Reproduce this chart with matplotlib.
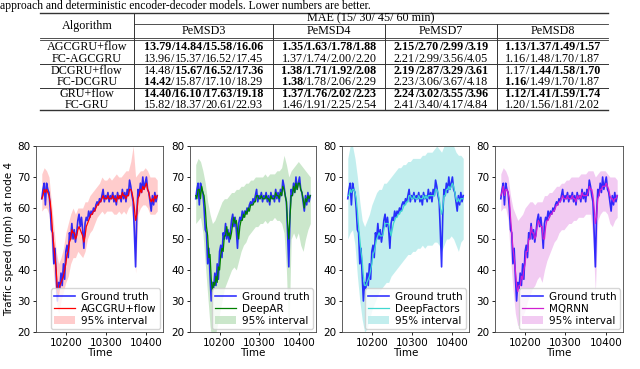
import numpy as np
import matplotlib
matplotlib.use("Agg")
import matplotlib.pyplot as plt
from matplotlib.lines import Line2D

# ---------------- data ----------------
caption = "approach and deterministic encoder-decoder models. Lower numbers are better."
algorithms = ["AGCGRU+flow", "FC-AGCGRU", "DCGRU+flow", "FC-DCGRU", "GRU+flow", "FC-GRU"]
datasets = ["PeMSD3", "PeMSD4", "PeMSD7", "PeMSD8"]
mae_pemsd3 = ["13.79/14.84/15.58/16.06", "13.96/15.37/16.52/17.45", "14.48/15.67/16.52/17.36",
              "14.42/15.87/17.10/18.29", "14.40/16.10/17.63/19.18", "15.82/18.37/20.61/22.93"]
mae_pemsd4 = ["1.35/1.63/1.78/1.88", "1.37/1.74/2.00/2.20", "1.38/1.71/1.92/2.08",
              "1.38/1.78/2.06/2.29", "1.37/1.76/2.02/2.23", "1.46/1.91/2.25/2.54"]
mae_pemsd7 = ["2.15/2.70/2.99/3.19", "2.21/2.99/3.56/4.05", "2.19/2.87/3.29/3.61",
              "2.23/3.06/3.67/4.18", "2.24/3.02/3.55/3.96", "2.41/3.40/4.17/4.84"]
mae_pemsd8 = ["1.13/1.37/1.49/1.57", "1.16/1.48/1.70/1.87", "1.17/1.44/1.58/1.70",
              "1.16/1.49/1.70/1.87", "1.12/1.41/1.59/1.74", "1.20/1.56/1.81/2.02"]
mae_columns = [mae_pemsd3, mae_pemsd4, mae_pemsd7, mae_pemsd8]

t_line = np.arange(10140, 10431, 3)
ground_truth = [63, 66, 68, 61, 68, 66, 65, 60, 53, 52,
                42, 47, 38, 30, 36, 34, 39, 35, 42, 37,
                46, 48, 44, 52, 50, 55, 50, 53, 49, 52,
                56, 58, 54, 57, 53, 47, 55, 57, 56, 59,
                57, 59, 58, 60, 59, 61, 62, 61, 63, 62,
                64, 66, 62, 64, 63, 65, 62, 64, 63, 65,
                62, 64, 61, 65, 63, 64, 62, 66, 63, 65,
                62, 66, 64, 69, 67, 64, 62, 52, 41, 58,
                66, 64, 68, 65, 70, 66, 68, 70, 66, 65,
                62, 59, 64, 61, 65, 62, 64]
pred_agcgru = [63, 64, 66, 65, 66, 65, 64, 62, 58, 52,
               48, 44, 40, 33, 32, 35, 36, 37, 38, 40,
               42, 45, 46, 49, 50, 53, 52, 52, 50, 51,
               53, 54, 53, 52, 51, 49, 51, 54, 55, 56,
               57, 58, 58, 59, 59, 60, 61, 61, 62, 62,
               63, 64, 63, 63, 63, 64, 63, 63, 63, 64,
               63, 63, 62, 64, 63, 64, 63, 65, 64, 64,
               63, 64, 64, 66, 66, 65, 63, 60, 56, 58,
               63, 64, 66, 65, 67, 66, 67, 68, 66, 65,
               63, 62, 63, 62, 64, 63, 64]
pred_deepar = [64, 63, 66, 66, 63, 67, 65, 64, 60, 54,
               51, 44, 45, 37, 33, 36, 35, 38, 36, 41,
               40, 45, 47, 46, 51, 51, 54, 51, 52, 50,
               52, 55, 57, 55, 56, 53, 50, 54, 56, 56,
               58, 57, 59, 58, 60, 59, 61, 61, 61, 62,
               62, 64, 64, 63, 63, 64, 63, 63, 63, 64,
               63, 63, 62, 64, 63, 63, 63, 65, 64, 64,
               63, 65, 64, 67, 66, 64, 62, 55, 50, 57,
               64, 64, 67, 65, 68, 66, 68, 68, 66, 65,
               63, 60, 63, 62, 64, 63, 64]
pred_deepfactors = [64, 64, 66, 65, 66, 66, 65, 63, 59, 54,
                    50, 46, 43, 38, 35, 35, 36, 37, 38, 40,
                    42, 45, 46, 48, 50, 51, 52, 51, 51, 51,
                    53, 55, 55, 55, 55, 53, 51, 53, 55, 56,
                    57, 57, 58, 58, 59, 59, 60, 61, 61, 62,
                    62, 64, 64, 63, 63, 64, 63, 63, 63, 64,
                    63, 63, 63, 64, 63, 64, 63, 64, 64, 64,
                    64, 64, 64, 66, 66, 65, 63, 60, 58, 60,
                    64, 64, 66, 66, 67, 66, 67, 68, 67, 65,
                    63, 62, 63, 62, 63, 63, 63]
pred_mqrnn = [64, 65, 67, 64, 66, 66, 65, 63, 57, 52,
              47, 44, 40, 35, 33, 35, 35, 38, 37, 40,
              42, 46, 46, 50, 50, 54, 52, 52, 50, 51,
              54, 56, 55, 54, 54, 50, 50, 54, 56, 56,
              57, 58, 58, 59, 59, 60, 61, 61, 62, 62,
              63, 64, 63, 63, 63, 64, 63, 63, 63, 64,
              63, 63, 62, 64, 63, 64, 63, 65, 64, 64,
              64, 64, 65, 67, 66, 66, 64, 60, 55, 57,
              63, 64, 66, 66, 67, 67, 67, 68, 67, 66,
              64, 63, 63, 62, 63, 63, 64]

t_band = np.arange(10140, 10431, 6)
lo_agcgru = [59, 60, 60, 58, 47, 38, 30, 26, 30, 33, 36, 38, 42, 44, 44, 46, 45, 44, 46, 50,
             52, 53, 55, 57, 58, 59, 58, 59, 59, 59, 58, 58, 59, 58, 59, 58, 60, 61, 55, 39,
             58, 60, 61, 61, 60, 58, 58, 58, 59]
hi_agcgru = [71, 73, 72, 70, 62, 54, 46, 42, 44, 47, 52, 55, 58, 60, 58, 60, 60, 60, 62, 62,
             64, 65, 66, 67, 68, 70, 69, 69, 70, 69, 70, 71, 70, 70, 71, 72, 72, 75, 80, 70,
             71, 72, 72, 73, 72, 70, 70, 70, 69]
lo_deepar = [55, 56, 57, 52, 42, 32, 22, 16, 18, 22, 26, 30, 34, 36, 38, 40, 41, 40, 43, 46,
             48, 49, 51, 52, 53, 54, 54, 55, 55, 56, 55, 56, 56, 57, 56, 56, 55, 52, 40, 18,
             50, 52, 50, 52, 48, 46, 50, 53, 55]
hi_deepar = [74, 76, 75, 72, 68, 62, 58, 55, 56, 58, 60, 62, 63, 63, 64, 65, 65, 66, 66, 67,
             67, 68, 68, 69, 69, 70, 70, 70, 70, 71, 70, 71, 71, 71, 72, 72, 73, 77, 74, 70,
             72, 73, 74, 75, 74, 73, 72, 71, 70]
lo_deepfactors = [50, 52, 53, 48, 38, 30, 24, 20, 21, 24, 27, 29, 31, 33, 34, 35, 36, 36, 38, 39,
                  40, 41, 42, 43, 44, 45, 45, 46, 46, 47, 47, 48, 47, 48, 48, 48, 49, 49, 48, 46,
                  48, 50, 50, 51, 50, 48, 46, 49, 50]
hi_deepfactors = [76, 80, 80, 76, 70, 62, 56, 54, 56, 58, 61, 63, 65, 66, 66, 68, 68, 69, 70, 71,
                  72, 73, 73, 74, 74, 75, 75, 76, 76, 76, 76, 77, 77, 78, 78, 78, 79, 80, 79, 78,
                  80, 80, 80, 81, 80, 78, 77, 77, 76]
lo_mqrnn = [59, 60, 60, 56, 44, 34, 26, 22, 23, 25, 27, 30, 32, 34, 35, 37, 38, 36, 40, 43,
            45, 47, 49, 50, 52, 53, 53, 54, 55, 55, 56, 56, 57, 57, 57, 58, 58, 58, 50, 33,
            56, 58, 59, 59, 58, 55, 54, 56, 57]
hi_mqrnn = [71, 73, 72, 70, 64, 60, 58, 56, 57, 58, 60, 61, 62, 62, 61, 62, 62, 62, 64, 64,
            65, 65, 66, 67, 67, 68, 68, 69, 69, 70, 70, 70, 70, 71, 71, 71, 72, 72, 72, 70,
            71, 72, 72, 72, 71, 70, 70, 70, 69]

model_names = ["AGCGRU+flow", "DeepAR", "DeepFactors", "MQRNN"]
preds = [pred_agcgru, pred_deepar, pred_deepfactors, pred_mqrnn]
lows = [lo_agcgru, lo_deepar, lo_deepfactors, lo_mqrnn]
highs = [hi_agcgru, hi_deepar, hi_deepfactors, hi_mqrnn]
line_colors = ["red", "green", "#40d8d0", "#d020d0"]
band_colors = ["#ffc4c4", "#c2e3c2", "#b8ecec", "#f0c2f0"]

# ---------------- figure ----------------
W, H = 640, 369
fig = plt.figure(figsize=(W / 100, H / 100), dpi=100)
SERIF = "Liberation Serif"

def fx(px):
    return px / W

def fy(py):
    return 1 - py / H

fig.text(fx(0), fy(6), caption, family=SERIF, fontsize=8.4, ha="left", va="center")

# table geometry (pixels)
tl, tr = 40, 608
vseps = [134, 273, 385, 497]
col_edges = [134, 273, 385, 497, 608]
y_top, y_mid, y_head, y_bot = 13, 23.5, 38.5, 110
row_y = [47, 58.5, 70.5, 82, 94, 105]
group_lines = [64.3, 88]
line_col = "#333333"

def hline(y, x0, x1, lw):
    fig.add_artist(Line2D([fx(x0), fx(x1)], [fy(y), fy(y)], transform=fig.transFigure,
                          color=line_col, lw=lw))

def vline(x, y0, y1, lw=0.7):
    fig.add_artist(Line2D([fx(x), fx(x)], [fy(y0), fy(y1)], transform=fig.transFigure,
                          color=line_col, lw=lw))

hline(y_top, tl, tr, 1.0)
hline(y_mid, vseps[0], tr, 0.6)
hline(y_head - 1, tl, tr, 0.6)
hline(y_head + 1, tl, tr, 0.6)
for gy in group_lines:
    hline(gy, tl, tr, 0.7)
hline(y_bot, tl, tr, 1.0)
vline(vseps[0], y_top, y_bot)
for x in vseps[1:]:
    vline(x, y_mid, y_bot)

FS = 8.7
fig.text(fx((tl + vseps[0]) / 2), fy((y_top + y_head) / 2), "Algorithm", family=SERIF,
         fontsize=FS, ha="center", va="center")
fig.text(fx((vseps[0] + tr) / 2), fy((y_top + y_mid) / 2), "MAE (15/ 30/ 45/ 60 min)",
         family=SERIF, fontsize=FS, ha="center", va="center")
for j, d in enumerate(datasets):
    fig.text(fx((col_edges[j] + col_edges[j + 1]) / 2), fy((y_mid + y_head) / 2), d,
             family=SERIF, fontsize=FS, ha="center", va="center")
for i, a in enumerate(algorithms):
    fig.text(fx((tl + vseps[0]) / 2), fy(row_y[i]), a, family=SERIF, fontsize=FS,
             ha="center", va="center")

renderer = fig.canvas.get_renderer()

def mixed_text(cx, cy, segments):
    objs = []
    total = 0
    for s, b in segments:
        t = fig.text(0, 0, s, family=SERIF, fontsize=FS,
                     fontweight="bold" if b else "normal", ha="left", va="center")
        w = t.get_window_extent(renderer=renderer).width
        objs.append((t, w))
        total += w
    x = cx - total / 2
    for t, w in objs:
        t.set_position((fx(x), fy(cy)))
        x += w

for j, col in enumerate(mae_columns):
    cx = (col_edges[j] + col_edges[j + 1]) / 2
    for i, cell in enumerate(col):
        partner = col[i + 1] if i % 2 == 0 else col[i - 1]
        vals = cell.split("/")
        pvals = partner.split("/")
        bold = [float(v) <= float(p) for v, p in zip(vals, pvals)]
        segs = []
        for k, v in enumerate(vals):
            segs.append((v, bold[k]))
            if k < len(vals) - 1:
                segs.append(("/", bold[k] and bold[k + 1]))
        mixed_text(cx, row_y[i], segs)

# ---------------- plots ----------------
ax_px = [(36, 163), (190, 316), (342, 469), (495, 623)]
ax_top, ax_bot = 146, 332
for k, (l, r) in enumerate(ax_px):
    ax = fig.add_axes([fx(l), fy(ax_bot), (r - l) / W, (ax_bot - ax_top) / H])
    ax.plot(t_line, ground_truth, color="blue", lw=1.2, alpha=0.8, label="Ground truth")
    ax.plot(t_line, preds[k], color=line_colors[k], lw=0.9, label=model_names[k])
    ax.fill_between(t_band, lows[k], highs[k], color=band_colors[k], lw=0, alpha=0.85,
                    label="95% interval")
    ax.set_ylim(20, 80)
    ax.set_yticks(range(20, 81, 10))
    ax.set_xticks([10200, 10300, 10400])
    ax.tick_params(labelsize=7.5, length=2.5, width=0.6, pad=1.5)
    ax.set_xlabel("Time", fontsize=7.5, labelpad=0)
    for s in ax.spines.values():
        s.set_linewidth(0.6)
        s.set_color("#444444")
    if k == 0:
        ax.set_ylabel("Traffic speed (mph) at node 4", fontsize=7.5, labelpad=2)
    ax.legend(loc="lower right", fontsize=7.5, handlelength=2.0, borderpad=0.3,
              labelspacing=0.2, handletextpad=0.6, borderaxespad=0.3)

fig.savefig("out.png", dpi=100)
